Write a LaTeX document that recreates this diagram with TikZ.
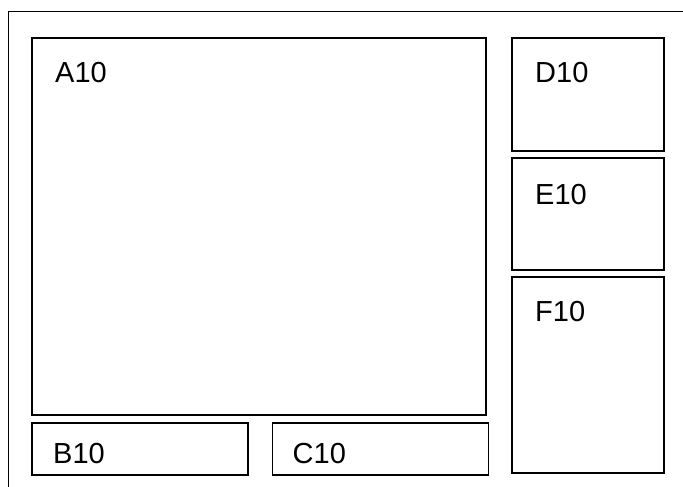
\documentclass[tikz,border=0pt]{standalone}
\usepackage{fontspec}
\setmainfont{Liberation Sans}
\usepackage{tikz}
\usetikzlibrary{positioning}

\begin{document}
\begin{tikzpicture}[x=1pt, y=1pt, node distance=8pt,
    box/.style={rectangle, draw=black, line width=1.8pt, anchor=north west, inner sep=0pt, outer sep=0pt},
    lbl/.style={anchor=base west, inner sep=0pt, font=\fontsize{29}{34}\selectfont}]
        \useasboundingbox (0,0) rectangle (683,-487);
        % outer frame, only its left and top sides show
        \draw[line width=1.8pt] (8.5,-487) |- (683,-11.5);
        % main panel and the two strips below it
        \node[box, minimum width=454pt, minimum height=377pt] (panelA) at (32,-38) {};
        \node[box, minimum width=216pt, minimum height=52pt, below=8pt of panelA.south west, anchor=north west] (panelB) {};
        \node[box, minimum width=216pt, minimum height=52pt, right=24.5pt of panelB] (panelC) {};
        % side column
        \node[box, minimum width=152pt, minimum height=113pt, right=26pt of panelA.north east, anchor=north west] (panelD) {};
        \node[box, minimum width=152pt, minimum height=112pt, below=7pt of panelD] (panelE) {};
        \node[box, minimum width=152pt, minimum height=196pt, below=7pt of panelE] (panelF) {};
        % labels
        \node[lbl] (txtA) at ([xshift=23pt, yshift=-44pt]panelA.north west) {A10};
        \node[lbl] (txtB) at ([xshift=21pt, yshift=-40pt]panelB.north west) {B10};
        \node[lbl] (txtC) at ([xshift=20pt, yshift=-40pt]panelC.north west) {C10};
        \node[lbl] (txtD) at ([xshift=23pt, yshift=-45pt]panelD.north west) {D10};
        \node[lbl] (txtE) at ([xshift=23pt, yshift=-46pt]panelE.north west) {E10};
        \node[lbl] (txtF) at ([xshift=23pt, yshift=-44pt]panelF.north west) {F10};
    \end{tikzpicture}
\end{document}
